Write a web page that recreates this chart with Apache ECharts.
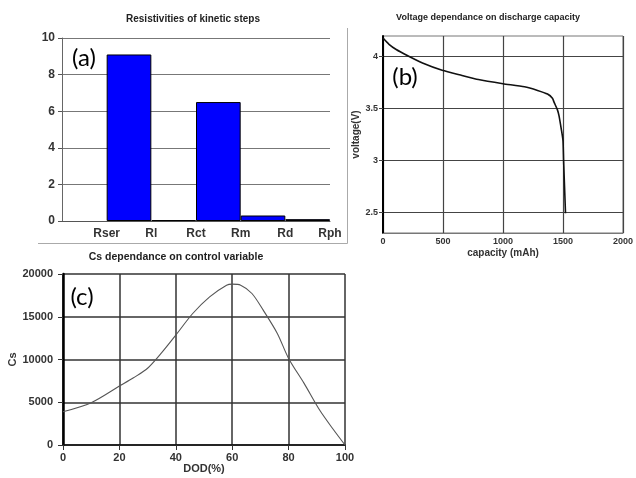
<!DOCTYPE html>
<html>
<head>
<meta charset="utf-8">
<script src="https://cdn.jsdelivr.net/npm/echarts@6.0.0/dist/echarts.min.js"></script>
<style>
html,body{margin:0;padding:0;background:#fff;}
#chart{width:636px;height:478px;}
</style>
</head>
<body>
<div id="chart"></div>
<script>
// ---- Panel (a): resistivities ----
const resCategories = ['Rser', 'Rl', 'Rct', 'Rm', 'Rd', 'Rph'];
const resValues = [9.1, 0.05, 6.5, 0.3, 0.1];
const resTicks = [0, 2, 4, 6, 8, 10];

// ---- Panel (b): voltage vs discharge capacity ----
const capacity = [0, 50, 110, 206, 329, 493, 658, 795, 1000, 1179, 1288, 1371, 1412, 1426, 1453, 1467, 1486, 1500, 1505, 1521];
const voltage  = [4.18, 4.12, 4.07, 4.01, 3.94, 3.87, 3.82, 3.78, 3.74, 3.71, 3.675, 3.64, 3.60, 3.56, 3.49, 3.43, 3.30, 3.19, 3.0, 2.49];
const voltTicks = [2.5, 3, 3.5, 4];
const capTicks = [0, 500, 1000, 1500, 2000];

// ---- Panel (c): Cs vs DOD ----
const dod = [0, 10, 20, 25, 30, 35, 40, 46, 52, 58, 60, 63, 67, 71, 76, 80, 85.5, 91, 96, 100];
const cs  = [3890, 4950, 6890, 7860, 8980, 10800, 12850, 15380, 17330, 18690, 18810, 18690, 17720, 15770, 13050, 10130, 7210, 4090, 1750, 0];
const csTicks = [0, 5000, 10000, 15000, 20000];
const dodTicks = [0, 20, 40, 60, 80, 100];

const FONT = '"Liberation Sans", Arial, sans-serif';
const LBL_FONT = 'Lato, "Open Sans", sans-serif';

const chart = echarts.init(document.getElementById('chart'), null, {renderer: 'canvas'});

const plain = v => String(v);
const boldLabel = (size, margin, extra) => Object.assign({
  fontFamily: FONT, fontWeight: 'bold', fontSize: size, color: '#333', margin: margin, formatter: plain
}, extra || {});

const option = {
  animation: false,
  backgroundColor: '#fff',
  grid: [
    {left: 62, top: 38, width: 268, height: 183},
    {left: 383, top: 36, width: 243, height: 197, show: true, borderColor: '#777', borderWidth: 1},
    {left: 63, top: 274, width: 282, height: 171}
  ],
  xAxis: [
    {
      gridIndex: 0, type: 'value', min: 0, max: 6, interval: 1,
      axisLine: {show: true, onZero: false, lineStyle: {color: '#555', width: 1}},
      axisTick: {show: false},
      splitLine: {show: false},
      axisLabel: boldLabel(12, 7, {
        formatter: v => (v >= 1 && v <= resCategories.length) ? resCategories[v - 1] : ''
      })
    },
    {
      gridIndex: 1, type: 'value', min: capTicks[0], max: capTicks[capTicks.length - 1], interval: 500,
      name: 'capacity (mAh)', nameLocation: 'middle', nameGap: 15,
      nameTextStyle: {fontFamily: FONT, fontWeight: 'bold', fontSize: 10, color: '#333'},
      axisLine: {show: true, onZero: false, lineStyle: {color: '#777', width: 1}},
      axisTick: {show: false},
      splitLine: {show: true, lineStyle: {color: '#444', width: 1.2}},
      axisLabel: boldLabel(9, 4)
    },
    {
      gridIndex: 2, type: 'value', min: dodTicks[0], max: dodTicks[dodTicks.length - 1], interval: 20,
      name: 'DOD(%)', nameLocation: 'middle', nameGap: 17,
      nameTextStyle: {fontFamily: FONT, fontWeight: 'bold', fontSize: 11, color: '#333'},
      axisLine: {show: true, onZero: false, lineStyle: {color: '#111', width: 1.5}},
      axisTick: {show: true, length: 5, lineStyle: {color: '#333'}},
      splitLine: {show: true, lineStyle: {color: '#333', width: 1.5}},
      axisLabel: boldLabel(11, 7)
    }
  ],
  yAxis: [
    {
      gridIndex: 0, type: 'value', min: resTicks[0], max: resTicks[resTicks.length - 1], interval: 2,
      axisLine: {show: true, lineStyle: {color: '#666', width: 1}},
      axisTick: {show: true, length: 4, lineStyle: {color: '#555'}},
      splitLine: {show: true, lineStyle: {color: '#777', width: 1.2}},
      axisLabel: boldLabel(12, 7)
    },
    {
      gridIndex: 1, type: 'value', min: 2.3, max: 4.2,
      name: 'voltage(V)', nameLocation: 'middle', nameGap: 21, nameRotate: 90,
      nameTextStyle: {fontFamily: FONT, fontWeight: 'bold', fontSize: 10, color: '#333'},
      axisLine: {show: true, lineStyle: {color: '#000', width: 2}},
      axisTick: {show: true, length: 4, customValues: voltTicks, lineStyle: {color: '#444'}},
      splitLine: {show: true, lineStyle: {color: '#444', width: 1.2}},
      axisLabel: boldLabel(9, 5, {customValues: voltTicks})
    },
    {
      gridIndex: 2, type: 'value', min: csTicks[0], max: csTicks[csTicks.length - 1], interval: 5000,
      name: 'Cs', nameLocation: 'middle', nameGap: 41, nameRotate: 90,
      nameTextStyle: {fontFamily: FONT, fontWeight: 'bold', fontSize: 11, color: '#333'},
      axisLine: {show: true, lineStyle: {color: '#000', width: 2.5}},
      axisTick: {show: true, length: 5, lineStyle: {color: '#333'}},
      splitLine: {show: true, lineStyle: {color: '#333', width: 1.5}},
      axisLabel: boldLabel(11, 10)
    }
  ],
  series: [
    {
      type: 'bar', xAxisIndex: 0, yAxisIndex: 0,
      data: resValues.map((v, i) => [i + 1.5, v]),
      barWidth: '100%',
      itemStyle: {color: '#0000ff', borderColor: '#000', borderWidth: 1},
      clip: true
    },
    {
      type: 'line', xAxisIndex: 1, yAxisIndex: 1,
      data: capacity.map((c, i) => [c, voltage[i]]),
      showSymbol: false, smooth: 0.2,
      lineStyle: {color: '#111', width: 1.6}
    },
    {
      type: 'line', xAxisIndex: 2, yAxisIndex: 2,
      data: dod.map((d, i) => [d, cs[i]]),
      showSymbol: false, smooth: 0.3,
      lineStyle: {color: '#555', width: 1.1}
    }
  ],
  graphic: [
    {type: 'line', shape: {x1: 38, y1: 243.5, x2: 347.5, y2: 243.5}, style: {stroke: '#aaa', lineWidth: 1}},
    {type: 'line', shape: {x1: 347.5, y1: 28, x2: 347.5, y2: 243.5}, style: {stroke: '#aaa', lineWidth: 1}},
    {type: 'text', x: 193, y: 19, style: {text: 'Resistivities of kinetic steps', font: 'bold 10px ' + FONT, fill: '#222', align: 'center', verticalAlign: 'middle'}},
    {type: 'text', x: 488, y: 18, style: {text: 'Voltage dependance on discharge capacity', font: 'bold 9px ' + FONT, fill: '#222', align: 'center', verticalAlign: 'middle'}},
    {type: 'text', x: 176, y: 257, style: {text: 'Cs dependance on control variable', font: 'bold 10.5px ' + FONT, fill: '#222', align: 'center', verticalAlign: 'middle'}},
    {type: 'text', x: 84, y: 58, style: {text: '(a)', font: '24px ' + LBL_FONT, fill: '#000', align: 'center', verticalAlign: 'middle'}},
    {type: 'text', x: 405, y: 77, style: {text: '(b)', font: '24px ' + LBL_FONT, fill: '#000', align: 'center', verticalAlign: 'middle'}},
    {type: 'text', x: 82, y: 297, style: {text: '(c)', font: '24px ' + LBL_FONT, fill: '#000', align: 'center', verticalAlign: 'middle'}}
  ]
};
chart.setOption(option);
</script>
</body>
</html>
